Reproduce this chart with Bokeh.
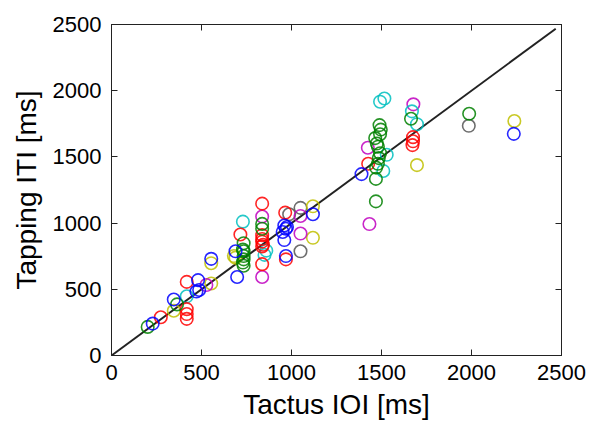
from bokeh.plotting import figure
from bokeh.models import LinearAxis, FixedTicker, CustomJSTickFormatter, Range1d
from bokeh.embed import file_html
from bokeh.resources import INLINE

# Data (Tactus IOI [ms], Tapping ITI [ms]) per colour group
blue_x = [229, 346, 472, 481, 487, 554, 689, 698, 960, 969, 951, 975, 960, 969, 1119, 1389, 2235]
blue_y = [241, 423, 483, 569, 495, 730, 787, 593, 982, 957, 933, 970, 872, 751, 1067, 1370, 1674]

green_x = [201, 364, 734, 730, 734, 734, 734, 730, 734, 837, 837, 1489, 1496, 1492, 1465, 1474, 1480,
           1492, 1485, 1480, 1470, 1469, 1469, 1664, 1987]
green_y = [216, 386, 848, 800, 787, 751, 726, 702, 678, 994, 957, 1740, 1706, 1671, 1642, 1601, 1577,
           1528, 1491, 1448, 1419, 1334, 1164, 1788, 1826]

red_x = [274, 418, 418, 418, 418, 716, 837, 837, 837, 837, 842, 837, 837, 965, 969, 1426, 1675, 1675, 1672]
red_y = [289, 350, 313, 277, 556, 914, 1147, 909, 880, 860, 836, 824, 690, 1079, 726, 1448, 1649, 1618, 1589]

cyan_x = [418, 730, 860, 850, 1492, 1516, 1529, 1510, 1669, 1697]
cyan_y = [447, 1011, 792, 760, 1917, 1941, 1516, 1394, 1844, 1747]

magenta_x = [527, 837, 837, 1050, 1050, 1424, 1433, 1677]
magenta_y = [532, 1050, 593, 1054, 921, 1569, 993, 1897]

yellow_x = [346, 554, 554, 680, 689, 1119, 1119, 1697, 2238]
yellow_y = [338, 544, 697, 751, 739, 1127, 889, 1438, 1771]

gray_x = [987, 1050, 1050, 1985]
gray_y = [1067, 1115, 787, 1735]

identity = [0, 2468]
ticks = [0, 500, 1000, 1500, 2000, 2500]

FONT = "Liberation Sans"

p = figure(width=590, height=430, output_backend="svg", toolbar_location=None,
           x_range=Range1d(0, 2500), y_range=Range1d(0, 2500),
           min_border_left=111, min_border_right=29, min_border_top=24, min_border_bottom=75)
p.background_fill_color = "white"
p.border_fill_color = "white"
p.outline_line_color = "#222222"
p.outline_line_width = 1
p.grid.visible = False

for ax in (p.xaxis[0], p.yaxis[0]):
    ax.ticker = FixedTicker(ticks=ticks)
    ax.major_tick_in = 6
    ax.major_tick_out = 0
    ax.minor_tick_line_color = None
    ax.axis_line_color = "#222222"
    ax.major_tick_line_color = "#222222"
    ax.major_label_text_font = FONT
    ax.major_label_text_font_size = "22px"
    ax.major_label_text_color = "black"
    ax.axis_label_text_font = FONT
    ax.axis_label_text_font_size = "28px"
    ax.axis_label_text_font_style = "normal"
    ax.axis_label_text_color = "black"

p.xaxis[0].axis_label = "Tactus IOI [ms]"
p.yaxis[0].axis_label = "Tapping ITI [ms]"
p.xaxis[0].major_label_standoff = 9
p.yaxis[0].major_label_standoff = 10
p.xaxis[0].axis_label_standoff = 6
p.yaxis[0].axis_label_standoff = 8

for loc in ("right", "above"):
    ax = LinearAxis(ticker=FixedTicker(ticks=ticks),
                    formatter=CustomJSTickFormatter(code="return ''"))
    ax.major_tick_in = 6
    ax.major_tick_out = 0
    ax.minor_tick_line_color = None
    ax.axis_line_color = "#222222"
    ax.major_tick_line_color = "#222222"
    ax.major_label_text_font_size = "0px"
    ax.major_label_standoff = 0
    p.add_layout(ax, loc)

p.line(identity, identity, line_color="#222222", line_width=2)

groups = [
    (gray_x, gray_y, "#555555"),
    (yellow_x, yellow_y, "#BFBF00"),
    (magenta_x, magenta_y, "#BF00BF"),
    (cyan_x, cyan_y, "#00BFBF"),
    (red_x, red_y, "#FF0000"),
    (green_x, green_y, "#008000"),
    (blue_x, blue_y, "#0000FF"),
]
for xs, ys, col in groups:
    p.scatter(xs, ys, marker="circle", size=12.5, fill_color=None,
              line_color=col, line_width=1.6, line_alpha=0.85)

open("out.html", "w").write(file_html(p, INLINE))
